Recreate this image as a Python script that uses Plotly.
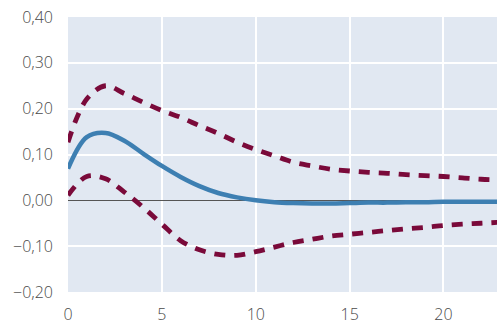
import plotly.graph_objects as go

# Horizon (quarters)
horizon = list(range(0, 24))

# Impulse response (median) and confidence bands
response = [0.069, 0.138, 0.147, 0.130, 0.102, 0.075, 0.051, 0.031, 0.016, 0.0065,
            0.0, -0.004, -0.006, -0.007, -0.007, -0.006, -0.005, -0.005, -0.004,
            -0.004, -0.003, -0.003, -0.003, -0.003]
upper = [0.127, 0.221, 0.250, 0.233, 0.214, 0.196, 0.181, 0.163, 0.146, 0.127,
         0.111, 0.097, 0.083, 0.075, 0.068, 0.064, 0.061, 0.059, 0.056, 0.054,
         0.052, 0.049, 0.046, 0.045]
lower = [0.011, 0.052, 0.047, 0.018, -0.015, -0.052, -0.088, -0.108, -0.118, -0.120,
         -0.112, -0.102, -0.092, -0.085, -0.078, -0.074, -0.070, -0.066, -0.062,
         -0.059, -0.055, -0.052, -0.050, -0.048]

x_ticks = [0, 5, 10, 15, 20]
y_ticks = [-0.2, -0.1, 0.0, 0.1, 0.2, 0.3, 0.4]

BAND = "#7a0a3a"
MAIN = "#3d7fb2"

fig = go.Figure()
for band in (upper, lower):
    fig.add_trace(go.Scatter(x=horizon, y=band, mode="lines",
                             line=dict(color=BAND, width=4.8, dash="11px,9px", shape="spline"),
                             hoverinfo="skip"))
fig.add_trace(go.Scatter(x=horizon, y=response, mode="lines",
                         line=dict(color=MAIN, width=4.5, shape="spline")))

tick_font = dict(family="Open Sans, sans-serif", size=16, color="#4a4a4a", weight=300)

fig.update_layout(
    width=497, height=329,
    margin=dict(l=68, r=0, t=17, b=37),
    paper_bgcolor="white",
    plot_bgcolor="#e1e8f2",
    showlegend=False,
    separators=",.",
    xaxis=dict(range=[0, 22.85], tickvals=x_ticks, showgrid=True, gridcolor="white",
               gridwidth=2, zeroline=False, showline=False, tickfont=tick_font,
               ticks="", ticklabelstandoff=11),
    yaxis=dict(range=[-0.2, 0.4], tickvals=y_ticks, tickformat=".2f", showgrid=True,
               gridcolor="white", gridwidth=2, zeroline=True, zerolinecolor="#555555",
               zerolinewidth=1.3, showline=False, tickfont=tick_font, ticks="",
               ticklabelstandoff=14),
)

fig.write_html("out.html")
